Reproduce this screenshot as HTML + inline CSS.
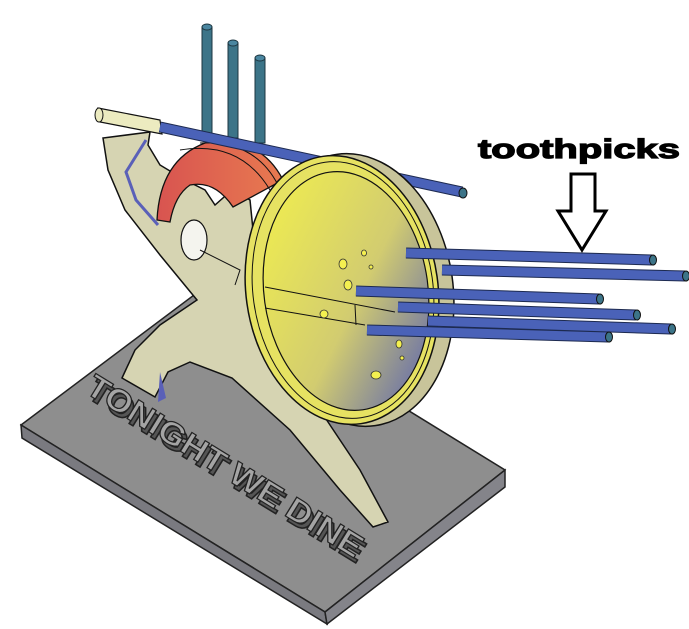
<!DOCTYPE html>
<html><head><meta charset="utf-8"><style>
html,body{margin:0;padding:0;background:#fff;}
svg{display:block;}
</style></head><body>
<svg width="689" height="629" viewBox="0 0 689 629" xmlns="http://www.w3.org/2000/svg">
<defs>
<linearGradient id="face" x1="0" y1="0" x2="1" y2="1">
<stop offset="0" stop-color="#f4f24a"/><stop offset="0.55" stop-color="#d2cc70"/><stop offset="1" stop-color="#4e58b8"/>
</linearGradient>
<linearGradient id="red" x1="0" y1="0" x2="1" y2="0">
<stop offset="0" stop-color="#d85450"/><stop offset="1" stop-color="#e87a50"/>
</linearGradient>
</defs>
<!-- base -->
<polygon points="21,425 206,286 505,470 325,612" fill="#8e8e8e" stroke="#222" stroke-width="1.5"/>
<polygon points="21,425 325,612 327,624 22,438" fill="#7a7a80" stroke="#222" stroke-width="1.5"/>
<polygon points="325,612 505,470 505,487 327,624" fill="#84848a" stroke="#222" stroke-width="1.5"/>
<!-- base text (extruded look) -->
<text x="0" y="0" transform="translate(86,397) rotate(31.6)" font-family="Liberation Sans, sans-serif" font-weight="bold" font-size="32" fill="#555" stroke="#222" stroke-width="1.5" textLength="318" lengthAdjust="spacingAndGlyphs">TONIGHT WE DINE</text>
<text x="0" y="0" transform="translate(84,392) rotate(31.6)" font-family="Liberation Sans, sans-serif" font-weight="bold" font-size="32" fill="#a4a4a4" stroke="#222" stroke-width="1.2" textLength="318" lengthAdjust="spacingAndGlyphs">TONIGHT WE DINE</text>
<!-- vertical rods -->
<g stroke="#1d3640" stroke-width="1">
<rect x="202" y="27" width="10" height="110" fill="#3c7488"/>
<rect x="228" y="43" width="10" height="95" fill="#3c7488"/>
<rect x="255" y="58" width="10" height="85" fill="#3c7488"/>
<ellipse cx="207" cy="27" rx="5" ry="3" fill="#4a86a0"/>
<ellipse cx="233" cy="43" rx="5" ry="3" fill="#4a86a0"/>
<ellipse cx="260" cy="58" rx="5" ry="3" fill="#4a86a0"/>
</g>
<!-- figure body -->
<path d="M103,138 L108,170 L125,210 L160,255 L197,300 L160,325 L135,350 L122,378 L155,397 L168,372 L190,362 L232,378 L290,430 L340,490 L373,527 L388,522 L360,470 L320,410 L290,370 L280,300 L255,250 L250,200 L232,190 L215,205 L205,190 L185,180 L160,165 L148,145 L150,132 Z" fill="#d6d4b2" stroke="#111" stroke-width="1.5"/>
<path d="M146,140 L126,172 L136,200 L158,225" fill="none" stroke="#5a60b8" stroke-width="3"/>
<ellipse cx="194" cy="240" rx="13" ry="20" fill="#f4f4ee" stroke="#111" stroke-width="1.2"/>
<path d="M200,250 L240,270 L235,285" fill="none" stroke="#111" stroke-width="1"/>
<path d="M160,372 L166,398 L158,402" fill="#5a60b8" stroke="none"/>
<!-- red helmet -->
<path d="M157,220 Q160,160 205,143 Q260,135 283,180 L233,207 Q215,180 190,185 Q175,195 170,222 Z" fill="url(#red)" stroke="#111" stroke-width="1.3"/>
<path d="M180,150 Q240,140 270,190 M200,143 Q255,140 278,185" fill="none" stroke="#111" stroke-width="1"/>
<!-- diagonal rod -->
<path d="M98,108 L160,120 L162,134 L100,122 Z" fill="#ecebc0" stroke="#111" stroke-width="1.2"/>
<ellipse cx="99" cy="115" rx="4" ry="7" fill="#ecebc0" stroke="#111"/>
<line x1="160" y1="127" x2="462" y2="192" stroke="#1d2a50" stroke-width="11"/>
<line x1="160" y1="127" x2="462" y2="192" stroke="#4a62b8" stroke-width="9"/>
<ellipse cx="463" cy="193" rx="4" ry="5" fill="#3c7488" stroke="#111"/>
<!-- wheel -->
<ellipse cx="356" cy="290" rx="97" ry="137" fill="#c8c49a" stroke="#111" stroke-width="1.5" transform="rotate(-8 356 290)"/>
<ellipse cx="342" cy="290" rx="96" ry="135" fill="#e6e262" stroke="#111" stroke-width="1.5" transform="rotate(-8 342 290)"/>
<ellipse cx="343" cy="290" rx="90" ry="129" fill="none" stroke="#111" stroke-width="1" transform="rotate(-8 343 290)"/>
<ellipse cx="346" cy="291" rx="82" ry="120" fill="url(#face)" stroke="#111" stroke-width="1.2" transform="rotate(-8 346 291)"/>
<path d="M265,287 L395,312 M265,308 L365,325 M355,305 L356,325" stroke="#111" stroke-width="1" fill="none"/>
<g fill="#f4f050" stroke="#333" stroke-width="0.8">
<ellipse cx="343" cy="264" rx="4" ry="5"/><ellipse cx="364" cy="253" rx="2.5" ry="3"/>
<ellipse cx="348" cy="285" rx="4" ry="5"/><ellipse cx="324" cy="314" rx="4" ry="4"/>
<ellipse cx="399" cy="344" rx="3" ry="4"/><ellipse cx="376" cy="375" rx="5" ry="4"/>
<ellipse cx="402" cy="358" rx="2" ry="2"/><ellipse cx="371" cy="267" rx="2" ry="2"/>
</g>
<!-- toothpicks -->
<g stroke="#1d2a50" stroke-width="11">
<line x1="406" y1="253" x2="652" y2="260"/><line x1="442" y1="270" x2="685" y2="276"/>
<line x1="356" y1="291" x2="599" y2="299"/><line x1="398" y1="307" x2="636" y2="315"/>
<line x1="428" y1="321" x2="671" y2="329"/><line x1="367" y1="330" x2="608" y2="337"/>
</g>
<g stroke="#4a62b8" stroke-width="9">
<line x1="406" y1="253" x2="652" y2="260"/><line x1="442" y1="270" x2="685" y2="276"/>
<line x1="356" y1="291" x2="599" y2="299"/><line x1="398" y1="307" x2="636" y2="315"/>
<line x1="428" y1="321" x2="671" y2="329"/><line x1="367" y1="330" x2="608" y2="337"/>
</g>
<g fill="#3c7488" stroke="#111">
<ellipse cx="653" cy="260" rx="3.5" ry="5"/><ellipse cx="686" cy="276" rx="3.5" ry="5"/>
<ellipse cx="600" cy="299" rx="3.5" ry="5"/><ellipse cx="637" cy="315" rx="3.5" ry="5"/>
<ellipse cx="672" cy="329" rx="3.5" ry="5"/><ellipse cx="609" cy="337" rx="3.5" ry="5"/>
</g>
<!-- label -->
<text x="478" y="158" font-family="Liberation Sans, sans-serif" font-weight="bold" font-size="27" fill="#000" stroke="#000" stroke-width="1.2" textLength="202" lengthAdjust="spacingAndGlyphs">toothpicks</text>
<polygon points="571,174 595,174 595,211 606,211 582,250 558,211 571,211" fill="#fff" stroke="#000" stroke-width="3"/>
</svg>
</body></html>
